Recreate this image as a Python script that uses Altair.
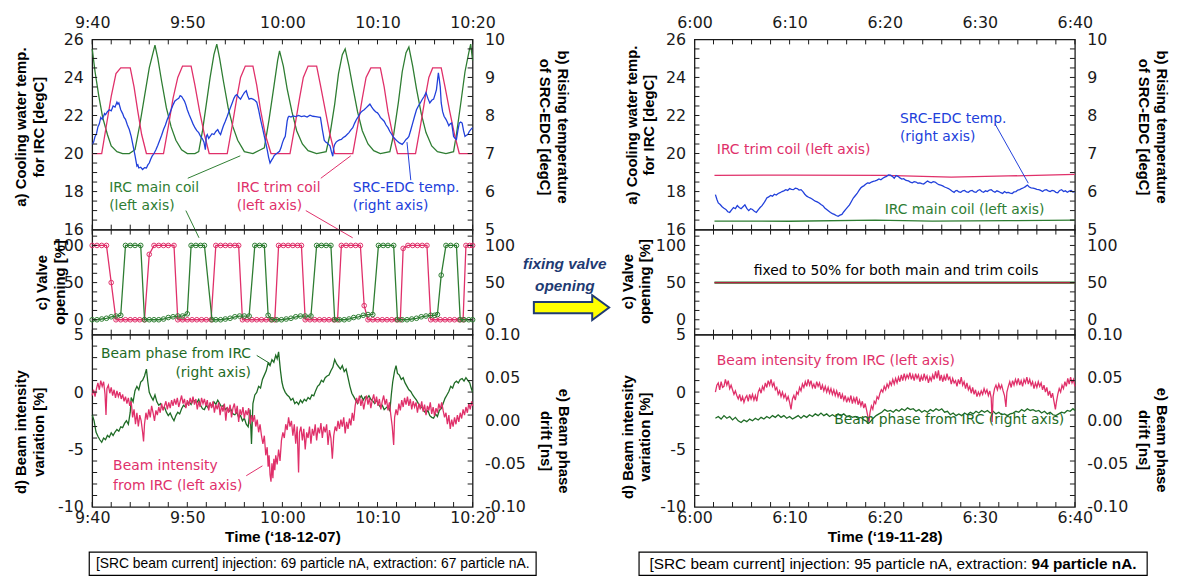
import altair as alt
import pandas as pd

W = 384
H_A, H_C, H_D = 192, 106, 174

PINK = "#E0306A"
GREEN = "#2E7D32"
DKGREEN = "#1E6B25"
BLUE = "#2140DB"
NAVY = "#1F3B73"
FRAME = "#1a1a1a"
ANN_FONT = "DejaVu Sans"
TTL_FONT = "Liberation Sans"

# ---------------- axis labels / ticks ----------------
TIME_POS = [0, 10, 20, 30, 40]
LEFT_TIMES = ["9:40", "9:50", "10:00", "10:10", "10:20"]
RIGHT_TIMES = ["6:00", "6:10", "6:20", "6:30", "6:40"]
X_TICKS = [0, 2, 4, 6, 8, 10, 12, 14, 16, 18, 20, 22, 24, 26, 28, 30, 32, 34, 36, 38, 40]
TEMP_LABELS = [16, 18, 20, 22, 24, 26]
EDC_LABELS = [5, 6, 7, 8, 9, 10]
VALVE_LABELS = [0, 50, 100]
INT_LABELS = [-10, -5, 0, 5]
PHASE_LABELS = [-0.1, -0.05, 0.0, 0.05, 0.1]
TEMP_TICKS = [16.5, 17, 17.5, 18, 18.5, 19, 19.5, 20, 20.5, 21, 21.5, 22, 22.5, 23, 23.5, 24, 24.5, 25, 25.5]
VALVE_TICKS = [-12.5, 0, 12.5, 25, 37.5, 50, 62.5, 75, 87.5, 100, 112.5]
INT_TICKS = [-9, -8, -7, -6, -5, -4, -3, -2, -1, 0, 1, 2, 3, 4]

DOM_TEMP = [16, 26]
DOM_EDC = [5, 10]
DOM_VALVE = [-20, 121.3]
DOM_INT = [-10, 5]
DOM_PHASE = [-0.1, 0.1]

# ---------------- left (2018-12-07) data: (minutes after 9:40, value) ----------------
MAIN_TEMP_L = [(0, 25.5), (0.3, 24.3), (0.7, 23.0), (1.1, 21.9), (1.6, 21.0), (2.0, 20.4), (2.6, 20.1), (3.2, 20.0),
               (3.9, 20.0), (4.5, 20.2), (5.0, 21.5), (5.5, 23.0), (6.0, 24.5), (6.6, 25.7), (6.9, 25.0), (7.3, 23.8),
               (7.8, 22.4), (8.3, 21.4), (8.8, 20.7), (9.4, 20.2), (10.0, 20.0), (10.8, 20.0), (11.2, 20.1), (11.6, 21.2),
               (12.0, 22.6), (12.4, 24.0), (12.8, 25.2), (13.1, 25.75), (13.4, 25.0), (13.8, 23.8), (14.3, 22.4),
               (14.8, 21.4), (15.3, 20.7), (16.0, 20.1), (16.9, 20.0), (17.7, 20.2), (18.1, 20.3), (18.6, 21.8),
               (19.1, 23.5), (19.5, 24.9), (19.7, 25.4), (20.1, 24.6), (20.5, 23.4), (21.0, 22.2), (21.5, 21.2),
               (22.1, 20.5), (22.7, 20.15), (23.6, 20.0), (24.6, 20.1), (25.0, 21.0), (25.5, 22.6), (25.9, 24.2),
               (26.3, 25.2), (26.6, 25.5), (27.0, 24.6), (27.4, 23.5), (27.9, 22.2), (28.4, 21.2), (29.0, 20.5),
               (29.6, 20.15), (30.3, 20.0), (31.3, 20.1), (31.7, 21.0), (32.2, 22.7), (32.6, 24.3), (33.0, 25.3),
               (33.3, 25.6), (33.7, 24.6), (34.1, 23.4), (34.6, 22.1), (35.1, 21.1), (35.7, 20.4), (36.3, 20.1),
               (37.2, 20.0), (38.0, 20.1), (38.3, 21.0), (38.8, 22.8), (39.2, 24.3), (39.6, 25.3), (39.8, 25.75),
               (40.0, 24.9)]

TRIM_TEMP_L = [(0, 20.0), (1.0, 20.0), (1.5, 21.5), (2.0, 23.0), (2.5, 24.2), (3.0, 24.5), (4.0, 24.5), (4.4, 23.5),
               (4.8, 22.2), (5.2, 21.0), (5.7, 20.0), (7.5, 20.0), (8.0, 21.4), (8.5, 22.9), (9.0, 24.0), (9.5, 24.6),
               (10.4, 24.6), (10.8, 23.6), (11.3, 22.2), (11.8, 21.0), (12.3, 20.0), (14.2, 20.0), (14.7, 21.4),
               (15.2, 22.9), (15.6, 24.0), (16.1, 24.6), (16.9, 24.6), (17.3, 23.6), (17.7, 22.3), (18.2, 21.0),
               (18.8, 20.0), (20.8, 20.0), (21.3, 21.4), (21.8, 22.9), (22.2, 24.0), (22.7, 24.6), (23.6, 24.6),
               (24.0, 23.6), (24.5, 22.3), (25.0, 21.0), (25.5, 20.0), (27.4, 20.0), (27.9, 21.4), (28.4, 22.9),
               (28.8, 24.0), (29.3, 24.5), (30.3, 24.5), (30.7, 23.5), (31.1, 22.2), (31.6, 21.0), (32.1, 20.0),
               (34.0, 20.0), (34.5, 21.4), (35.0, 22.9), (35.4, 24.0), (35.8, 24.5), (36.7, 24.5), (37.1, 23.5),
               (37.6, 22.2), (38.1, 21.0), (38.6, 20.0), (40.0, 20.0)]

EDC_L = [(0.0, 7.24), (0.15, 7.30), (0.3, 7.45), (0.45, 7.52), (0.6, 7.70), (0.75, 7.78), (0.9, 7.95), (1.05, 7.90),
         (1.2, 7.98), (1.3, 8.05), (1.4, 8.02), (1.6, 8.10), (1.8, 8.15), (2.0, 8.12), (2.2, 8.25), (2.4, 8.22),
         (2.6, 8.35), (2.7, 8.30), (2.8, 8.33), (3.0, 8.15), (3.2, 8.05), (3.35, 7.95), (3.5, 7.90), (3.7, 7.75),
         (3.9, 7.63), (4.1, 7.45), (4.3, 7.20), (4.5, 6.95), (4.7, 6.67), (4.8, 6.70), (4.9, 6.62), (5.1, 6.64),
         (5.3, 6.58), (5.5, 6.63), (5.7, 6.62), (5.85, 6.70), (6.0, 6.75), (6.15, 6.85), (6.3, 6.93), (6.5, 7.00),
         (6.7, 7.10), (6.9, 7.22), (7.1, 7.35), (7.3, 7.48), (7.5, 7.63), (7.7, 7.75), (7.9, 7.90), (8.1, 8.02),
         (8.3, 8.15), (8.5, 8.28), (8.7, 8.38), (8.9, 8.42), (9.1, 8.45), (9.25, 8.52), (9.4, 8.50), (9.55, 8.44),
         (9.7, 8.38), (9.85, 8.28), (10.0, 8.15), (10.2, 8.02), (10.4, 7.90), (10.6, 7.78), (10.8, 7.68),
         (11.0, 7.60), (11.2, 7.55), (11.4, 7.45), (11.6, 7.38), (11.75, 7.30), (11.9, 7.10), (12.0, 7.45),
         (12.1, 7.50), (12.25, 7.40), (12.4, 7.45), (12.6, 7.52), (12.8, 7.50), (13.0, 7.58), (13.2, 7.63),
         (13.35, 7.55), (13.5, 7.50), (13.65, 7.62), (13.8, 7.73), (14.0, 7.85), (14.2, 7.98), (14.4, 8.12),
         (14.6, 8.25), (14.75, 8.35), (14.9, 8.45), (15.05, 8.52), (15.2, 8.55), (15.4, 8.48), (15.6, 8.43),
         (15.8, 8.52), (16.0, 8.60), (16.2, 8.65), (16.35, 8.52), (16.5, 8.43), (16.7, 8.45), (16.9, 8.43),
         (17.1, 8.40), (17.3, 8.35), (17.5, 8.15), (17.7, 7.90), (17.9, 7.68), (18.1, 7.45), (18.25, 7.28),
         (18.4, 7.10), (18.55, 6.90), (18.7, 6.75), (18.85, 6.82), (19.0, 6.88), (19.15, 6.95), (19.3, 6.98),
         (19.5, 7.02), (19.7, 7.06), (19.85, 7.15), (20.0, 7.28), (20.15, 7.38), (20.3, 7.45), (20.4, 7.65),
         (20.5, 7.85), (20.6, 7.95), (20.7, 7.98), (20.9, 7.96), (21.1, 7.99), (21.4, 7.97), (21.7, 8.00),
         (22.0, 7.97), (22.3, 7.99), (22.6, 7.96), (22.9, 8.01), (23.2, 7.98), (23.5, 7.97), (23.8, 7.96),
         (24.0, 7.95), (24.2, 7.63), (24.4, 7.35), (24.55, 7.30), (24.7, 7.28), (24.85, 7.24), (25.0, 7.20),
         (25.15, 7.05), (25.3, 6.93), (25.4, 7.15), (25.5, 7.24), (25.65, 7.30), (25.8, 7.33), (26.0, 7.36),
         (26.2, 7.37), (26.4, 7.42), (26.6, 7.45), (26.8, 7.50), (27.0, 7.55), (27.2, 7.62), (27.4, 7.68),
         (27.6, 7.80), (27.8, 7.90), (28.0, 7.98), (28.2, 8.07), (28.4, 8.12), (28.6, 8.15), (28.8, 8.20),
         (29.0, 8.25), (29.2, 8.30), (29.4, 8.22), (29.6, 8.15), (29.8, 8.10), (30.0, 8.07), (30.2, 8.00),
         (30.3, 7.95), (30.5, 7.90), (30.7, 7.85), (30.9, 7.75), (31.1, 7.68), (31.3, 7.58), (31.5, 7.50),
         (31.7, 7.42), (31.9, 7.37), (32.1, 7.32), (32.3, 7.28), (32.45, 7.26), (32.6, 7.24), (32.8, 7.30),
         (33.0, 7.37), (33.15, 7.40), (33.3, 7.45), (33.5, 7.62), (33.7, 7.80), (33.9, 7.98), (34.1, 8.15),
         (34.3, 8.25), (34.5, 8.33), (34.7, 8.42), (34.9, 8.50), (35.1, 8.60), (35.3, 8.45), (35.5, 8.33),
         (35.7, 8.40), (35.9, 8.43), (36.05, 8.55), (36.2, 8.68), (36.3, 8.90), (36.4, 9.12), (36.5, 8.95),
         (36.6, 8.75), (36.7, 8.33), (36.85, 8.10), (37.0, 7.98), (37.2, 7.90), (37.35, 7.82), (37.5, 7.73),
         (37.65, 7.78), (37.8, 7.80), (38.0, 7.45), (38.15, 7.40), (38.3, 7.37), (38.45, 7.60), (38.6, 7.80),
         (38.75, 7.83), (38.9, 7.80), (39.05, 7.60), (39.2, 7.45), (39.35, 7.48), (39.5, 7.50), (39.65, 7.58),
         (39.8, 7.63), (40.0, 7.68)]

VALVE_TRIM_L = [(0.0, 100), (0.5, 100), (1.0, 100), (1.5, 100), (2.0, 50), (2.5, 0), (3.0, 0), (3.5, 0), (4.0, 0),
                (4.5, 0), (5.0, 0), (5.5, 0), (6.0, 88), (6.5, 100), (7.0, 100), (7.5, 100), (8.0, 100), (8.6, 100),
                (9.0, 0), (9.5, 0), (10.0, 0), (10.5, 0), (11.0, 0), (11.5, 0), (12.0, 0), (12.5, 0), (13.0, 100),
                (13.5, 100), (14.0, 100), (14.5, 100), (15.0, 100), (15.4, 100), (15.8, 0), (16.3, 0), (16.8, 0),
                (17.3, 0), (17.8, 0), (18.3, 0), (18.8, 0), (19.2, 0), (19.6, 100), (20.1, 100), (20.6, 100),
                (21.1, 100), (21.6, 100), (22.0, 100), (22.4, 0), (22.9, 0), (23.4, 0), (23.9, 0), (24.4, 0),
                (24.9, 0), (25.4, 0), (25.8, 0), (26.2, 100), (26.7, 100), (27.2, 100), (27.7, 100), (28.2, 100),
                (28.6, 19), (29.0, 0), (29.5, 0), (30.0, 0), (30.5, 0), (31.0, 0), (31.5, 0), (32.0, 0), (32.4, 0),
                (32.7, 96), (33.2, 100), (33.7, 100), (34.2, 100), (34.7, 100), (35.2, 100), (35.6, 0), (36.1, 0),
                (36.6, 0), (37.1, 0), (37.6, 0), (38.1, 0), (38.6, 0), (39.0, 0), (39.3, 100), (39.7, 100),
                (40.0, 100)]

VALVE_MAIN_L = [(0.0, 0), (0.5, 0), (1.0, 1), (1.5, 2), (2.0, 4), (2.5, 5), (3.0, 6), (3.5, 100), (4.0, 100),
                (4.5, 100), (5.1, 100), (5.5, 0), (6.0, 0), (6.5, 0), (7.0, 0), (7.5, 1), (8.0, 3), (8.5, 4),
                (9.0, 5), (9.5, 5), (10.0, 8), (10.4, 100), (10.9, 100), (11.4, 100), (11.8, 100), (12.6, 0),
                (13.0, 0), (13.5, 0), (14.0, 1), (14.5, 2), (15.0, 4), (15.5, 5), (16.0, 5), (16.5, 5), (17.1, 100),
                (17.6, 100), (18.1, 100), (18.5, 6), (18.9, 0), (19.4, 0), (19.9, 0), (20.4, 1), (20.9, 2),
                (21.4, 4), (21.9, 5), (22.4, 5), (23.0, 5), (23.6, 100), (24.1, 100), (24.6, 100), (25.1, 100),
                (25.5, 0), (26.0, 0), (26.5, 0), (27.0, 1), (27.5, 3), (28.0, 4), (28.5, 6), (29.0, 7), (29.5, 7),
                (30.1, 100), (30.6, 100), (31.1, 100), (31.7, 100), (32.1, 0), (32.6, 0), (33.1, 0), (33.6, 1),
                (34.1, 2), (34.6, 4), (35.1, 5), (35.6, 6), (36.0, 6), (36.3, 7), (36.7, 60), (37.2, 100),
                (37.7, 100), (38.3, 100), (38.7, 0), (39.1, 0), (39.6, 0), (40.0, 0)]

INTENSITY_L = [(0.0, -0.3), (0.15, 0.2), (0.3, -0.4), (0.45, 0.3), (0.6, 0.8), (0.75, 0.2), (0.9, 1.0), (1.05, 0.5),
               (1.2, 0.9), (1.35, -0.2), (1.45, -2.0), (1.55, 0.3), (1.7, 0.6), (1.85, -0.1), (2.0, 0.4),
               (2.15, -0.3), (2.3, 0.2), (2.45, -0.5), (2.6, 0.1), (2.75, -0.4), (2.9, 0.0), (3.05, -0.6),
               (3.2, -0.2), (3.35, -0.8), (3.5, -0.4), (3.65, -1.0), (3.8, -0.5), (3.95, -1.2), (4.1, -0.8),
               (4.25, -2.2), (4.4, -1.5), (4.55, -2.8), (4.7, -1.8), (4.85, -3.0), (5.0, -2.0), (5.15, -2.5),
               (5.3, -3.5), (5.4, -4.3), (5.5, -2.8), (5.65, -1.8), (5.8, -2.4), (5.95, -1.5), (6.1, -2.2),
               (6.25, -1.2), (6.4, -1.8), (6.55, -2.5), (6.7, -1.6), (6.85, -2.0), (7.0, -1.3), (7.15, -1.8),
               (7.3, -1.0), (7.45, -1.6), (7.6, -1.2), (7.75, -0.8), (7.9, -1.5), (8.05, -0.9), (8.2, -1.4),
               (8.35, -0.7), (8.5, -1.2), (8.65, -0.6), (8.8, -1.1), (8.95, -0.5), (9.1, -1.3), (9.25, -0.8),
               (9.4, -0.3), (9.55, -1.0), (9.7, -0.6), (9.85, -1.4), (10.0, -0.7), (10.15, -1.2), (10.3, -0.5),
               (10.45, -1.0), (10.6, -0.4), (10.75, -1.1), (10.9, -0.6), (11.05, -1.5), (11.2, -0.8),
               (11.35, -1.3), (11.5, -0.5), (11.65, -1.0), (11.8, -0.6), (11.95, -1.2), (12.1, -0.7),
               (12.25, -1.6), (12.4, -0.9), (12.55, -1.4), (12.7, -0.8), (12.85, -1.8), (13.0, -1.1),
               (13.15, -1.5), (13.3, -0.9), (13.45, -2.0), (13.6, -1.2), (13.75, -1.7), (13.9, -1.0),
               (14.05, -2.5), (14.2, -1.3), (14.35, -1.8), (14.5, -1.1), (14.65, -2.2), (14.8, -1.4),
               (14.95, -1.0), (15.1, -1.9), (15.25, -1.2), (15.4, -2.6), (15.55, -1.5), (15.7, -2.0),
               (15.85, -1.3), (16.0, -2.3), (16.15, -1.6), (16.3, -2.0), (16.45, -1.4), (16.6, -2.8),
               (16.75, -2.0), (16.9, -2.6), (17.05, -2.0), (17.2, -3.0), (17.35, -2.4), (17.5, -3.5),
               (17.65, -2.8), (17.8, -3.8), (17.95, -4.5), (18.1, -3.8), (18.25, -5.5), (18.4, -4.8),
               (18.5, -6.5), (18.6, -5.5), (18.7, -7.2), (18.8, -7.8), (18.9, -6.2), (19.0, -7.5), (19.1, -5.8),
               (19.2, -6.8), (19.3, -5.5), (19.45, -6.3), (19.6, -5.0), (19.75, -6.0), (19.9, -4.2),
               (20.05, -3.5), (20.2, -4.0), (20.35, -2.8), (20.5, -3.3), (20.65, -2.2), (20.8, -3.0),
               (20.95, -2.5), (21.1, -3.8), (21.25, -2.8), (21.4, -4.5), (21.55, -3.0), (21.7, -7.0),
               (21.8, -3.5), (21.95, -3.0), (22.1, -4.2), (22.25, -3.2), (22.4, -5.0), (22.55, -3.5),
               (22.7, -4.0), (22.85, -3.0), (23.0, -4.5), (23.15, -3.2), (23.3, -3.8), (23.45, -2.8),
               (23.6, -4.2), (23.75, -3.1), (23.9, -3.6), (24.05, -2.7), (24.2, -4.0), (24.35, -3.0),
               (24.5, -3.5), (24.65, -2.8), (24.8, -4.6), (24.95, -3.3), (25.1, -4.0), (25.25, -5.8),
               (25.4, -3.8), (25.55, -3.0), (25.7, -3.4), (25.85, -2.5), (26.0, -3.2), (26.15, -2.4),
               (26.3, -3.0), (26.45, -2.2), (26.6, -3.6), (26.75, -2.6), (26.9, -3.2), (27.05, -2.3),
               (27.2, -2.9), (27.35, -1.8), (27.5, -2.5), (27.65, -1.2), (27.8, -0.5), (27.95, -1.0),
               (28.1, -0.3), (28.25, -1.2), (28.4, -0.6), (28.55, -1.5), (28.7, -0.8), (28.85, -0.3),
               (29.0, -1.1), (29.15, -0.5), (29.3, -1.4), (29.45, -0.7), (29.6, -0.2), (29.75, -1.0),
               (29.9, -0.4), (30.05, -1.2), (30.2, -0.6), (30.35, -1.5), (30.5, -0.8), (30.65, -0.3),
               (30.8, -1.1), (30.95, -0.6), (31.1, -1.6), (31.25, -0.9), (31.4, -2.0), (31.55, -3.0),
               (31.7, -4.6), (31.8, -2.2), (31.95, -1.5), (32.1, -2.0), (32.25, -1.0), (32.4, -1.6),
               (32.55, -0.7), (32.7, -1.3), (32.85, -0.5), (33.0, -1.1), (33.15, -0.4), (33.3, -1.2),
               (33.45, -0.6), (33.6, -1.5), (33.75, -0.8), (33.9, -1.3), (34.05, -0.9), (34.2, -1.8),
               (34.35, -1.0), (34.5, -1.5), (34.65, -0.8), (34.8, -1.7), (34.95, -1.1), (35.1, -2.0),
               (35.25, -1.2), (35.4, -1.6), (35.55, -0.9), (35.7, -1.9), (35.85, -1.3), (36.0, -2.1),
               (36.15, -1.4), (36.3, -1.8), (36.45, -1.0), (36.6, -1.5), (36.75, -0.9), (36.9, -1.6),
               (37.05, -2.2), (37.2, -1.8), (37.35, -2.8), (37.5, -2.0), (37.65, -3.2), (37.8, -2.4),
               (37.95, -3.0), (38.1, -2.2), (38.25, -2.8), (38.4, -2.0), (38.55, -2.6), (38.7, -1.8),
               (38.85, -2.3), (39.0, -1.5), (39.15, -2.0), (39.3, -1.3), (39.45, -1.8), (39.6, -1.0),
               (39.75, -1.5), (39.9, -0.8), (40.0, -1.2)]

PHASE_L = [(0.0, 0.007), (0.2, 0.000), (0.4, -0.013), (0.6, -0.018), (0.8, -0.022), (1.0, -0.025), (1.2, -0.020),
           (1.4, -0.022), (1.6, -0.017), (1.8, -0.019), (2.0, -0.014), (2.2, -0.017), (2.4, -0.013), (2.6, -0.010),
           (2.8, -0.012), (3.0, -0.007), (3.2, -0.008), (3.4, -0.003), (3.6, 0.000), (3.8, -0.004), (4.0, 0.010),
           (4.1, 0.027), (4.3, 0.022), (4.5, 0.035), (4.7, 0.040), (4.9, 0.036), (5.1, 0.045), (5.3, 0.047),
           (5.5, 0.052), (5.7, 0.060), (5.85, 0.045), (6.0, 0.033), (6.2, 0.028), (6.4, 0.024), (6.6, 0.030),
           (6.8, 0.022), (7.0, 0.018), (7.2, 0.020), (7.4, 0.014), (7.6, 0.016), (7.8, 0.010), (8.0, 0.006),
           (8.2, 0.009), (8.4, 0.004), (8.6, 0.000), (8.8, 0.006), (9.0, 0.010), (9.2, 0.008), (9.4, 0.014),
           (9.6, 0.018), (9.8, 0.016), (10.0, 0.020), (10.2, 0.022), (10.4, 0.019), (10.6, 0.024), (10.8, 0.023),
           (11.0, 0.021), (11.2, 0.025), (11.4, 0.018), (11.6, 0.014), (11.8, 0.013), (12.0, 0.018), (12.2, 0.015),
           (12.4, 0.020), (12.6, 0.017), (12.8, 0.022), (13.0, 0.019), (13.2, 0.024), (13.4, 0.020), (13.6, 0.016),
           (13.8, 0.018), (14.0, 0.013), (14.2, 0.015), (14.4, 0.011), (14.6, 0.013), (14.8, 0.008), (15.0, 0.007),
           (15.2, 0.010), (15.4, 0.004), (15.6, 0.006), (15.8, 0.000), (16.0, 0.003), (16.2, -0.004),
           (16.4, -0.007), (16.6, 0.013), (16.75, -0.027), (16.9, 0.020), (17.1, 0.030), (17.3, 0.033),
           (17.5, 0.040), (17.7, 0.038), (17.9, 0.048), (18.1, 0.053), (18.3, 0.058), (18.5, 0.067), (18.7, 0.064),
           (18.9, 0.071), (19.1, 0.068), (19.3, 0.076), (19.45, 0.072), (19.6, 0.080), (19.8, 0.058),
           (19.95, 0.045), (20.1, 0.038), (20.3, 0.033), (20.5, 0.030), (20.7, 0.028), (20.9, 0.024), (21.1, 0.026),
           (21.3, 0.020), (21.5, 0.022), (21.7, 0.019), (21.9, 0.024), (22.1, 0.021), (22.3, 0.025), (22.5, 0.023),
           (22.7, 0.027), (22.9, 0.025), (23.1, 0.030), (23.3, 0.029), (23.5, 0.035), (23.7, 0.040), (23.9, 0.042),
           (24.1, 0.047), (24.3, 0.045), (24.5, 0.050), (24.7, 0.052), (24.9, 0.053), (25.1, 0.058), (25.3, 0.062),
           (25.5, 0.071), (25.7, 0.066), (25.9, 0.063), (26.1, 0.060), (26.3, 0.064), (26.5, 0.057), (26.7, 0.060),
           (26.9, 0.050), (27.1, 0.040), (27.3, 0.032), (27.5, 0.028), (27.7, 0.024), (27.9, 0.020), (28.1, 0.026),
           (28.3, 0.029), (28.5, 0.024), (28.7, 0.028), (28.9, 0.026), (29.1, 0.029), (29.3, 0.025), (29.5, 0.023),
           (29.7, 0.020), (29.9, 0.024), (30.1, 0.019), (30.3, 0.016), (30.5, 0.018), (30.7, 0.013), (30.9, 0.015),
           (31.1, 0.017), (31.3, 0.011), (31.45, 0.030), (31.6, 0.045), (31.8, 0.058), (31.95, 0.064),
           (32.1, 0.055), (32.3, 0.053), (32.5, 0.048), (32.7, 0.050), (32.9, 0.044), (33.1, 0.040), (33.3, 0.036),
           (33.5, 0.034), (33.7, 0.030), (33.9, 0.027), (34.1, 0.024), (34.3, 0.020), (34.5, 0.017), (34.7, 0.015),
           (34.9, 0.011), (35.1, 0.009), (35.3, 0.012), (35.5, 0.006), (35.7, 0.004), (35.9, 0.003), (36.1, 0.008),
           (36.3, 0.005), (36.5, 0.012), (36.7, 0.014), (36.9, 0.020), (37.1, 0.026), (37.3, 0.030), (37.5, 0.034),
           (37.7, 0.040), (37.9, 0.038), (38.1, 0.044), (38.3, 0.046), (38.5, 0.044), (38.7, 0.048), (38.9, 0.049),
           (39.1, 0.046), (39.3, 0.050), (39.5, 0.047), (39.7, 0.044), (39.85, 0.038), (40.0, 0.033)]

# ---------------- right (2019-11-28) data: (minutes after 6:00, value) ----------------
TRIM_TEMP_R = [(2.1, 18.85), (10, 18.87), (20, 18.85), (27, 18.76), (33, 18.82), (40, 18.9)]
MAIN_TEMP_R = [(2.1, 16.45), (10, 16.44), (19, 16.5), (25, 16.45), (33, 16.47), (40, 16.5)]
VALVE_R = [(2.1, 50), (40, 50)]

EDC_R = [(2.2, 5.92), (2.35, 5.80), (2.5, 5.70), (2.7, 5.66), (2.9, 5.60), (3.1, 5.56), (3.3, 5.53), (3.5, 5.47),
         (3.7, 5.45), (3.9, 5.52), (4.1, 5.58), (4.3, 5.55), (4.5, 5.63), (4.7, 5.58), (4.9, 5.55), (5.1, 5.60),
         (5.3, 5.65), (5.5, 5.56), (5.7, 5.50), (5.9, 5.55), (6.1, 5.53), (6.3, 5.48), (6.5, 5.45), (6.7, 5.52),
         (6.9, 5.58), (7.1, 5.63), (7.3, 5.70), (7.45, 5.76), (7.6, 5.83), (7.8, 5.86), (8.0, 5.90), (8.2, 5.88),
         (8.4, 5.93), (8.6, 5.91), (8.8, 5.95), (9.0, 5.97), (9.2, 6.00), (9.4, 6.02), (9.6, 6.05), (9.8, 6.03),
         (10.0, 6.08), (10.2, 6.06), (10.4, 6.05), (10.6, 6.09), (10.8, 6.08), (11.0, 6.04), (11.2, 6.05),
         (11.4, 6.00), (11.6, 5.93), (11.8, 5.88), (12.0, 5.85), (12.2, 5.83), (12.4, 5.80), (12.55, 5.77),
         (12.7, 5.75), (12.9, 5.73), (13.1, 5.70), (13.3, 5.66), (13.5, 5.63), (13.7, 5.57), (13.9, 5.53),
         (14.1, 5.49), (14.3, 5.45), (14.5, 5.42), (14.7, 5.40), (14.9, 5.37), (15.1, 5.35), (15.3, 5.38),
         (15.5, 5.40), (15.7, 5.47), (15.9, 5.53), (16.1, 5.59), (16.3, 5.65), (16.5, 5.74), (16.7, 5.83),
         (16.9, 5.89), (17.1, 5.95), (17.3, 6.03), (17.5, 6.10), (17.65, 6.13), (17.8, 6.15), (18.0, 6.19),
         (18.2, 6.23), (18.4, 6.22), (18.6, 6.25), (18.8, 6.27), (19.0, 6.28), (19.2, 6.30), (19.4, 6.33),
         (19.6, 6.31), (19.8, 6.35), (20.0, 6.38), (20.2, 6.40), (20.4, 6.44), (20.6, 6.43), (20.8, 6.40),
         (21.0, 6.35), (21.2, 6.42), (21.4, 6.40), (21.6, 6.36), (21.8, 6.33), (22.0, 6.34), (22.2, 6.30),
         (22.35, 6.29), (22.5, 6.28), (22.7, 6.25), (22.9, 6.23), (23.1, 6.26), (23.3, 6.25), (23.5, 6.22),
         (23.7, 6.23), (23.9, 6.21), (24.1, 6.20), (24.3, 6.24), (24.5, 6.28), (24.7, 6.25), (24.9, 6.23),
         (25.1, 6.26), (25.3, 6.25), (25.5, 6.21), (25.7, 6.18), (25.9, 6.17), (26.1, 6.15), (26.3, 6.12),
         (26.5, 6.10), (26.7, 6.08), (26.9, 6.05), (27.1, 6.01), (27.3, 5.98), (27.45, 6.02), (27.6, 6.03),
         (27.8, 5.99), (28.0, 5.98), (28.2, 6.02), (28.4, 6.03), (28.6, 5.99), (28.8, 5.98), (29.0, 6.02),
         (29.2, 6.03), (29.4, 5.99), (29.6, 5.98), (29.8, 6.03), (30.0, 6.05), (30.2, 6.00), (30.4, 5.98),
         (30.6, 6.02), (30.8, 6.00), (31.0, 6.04), (31.2, 6.05), (31.4, 6.01), (31.6, 5.98), (31.8, 6.02),
         (32.0, 6.00), (32.2, 5.97), (32.4, 5.95), (32.6, 6.00), (32.8, 5.97), (33.0, 5.98), (33.2, 5.96),
         (33.4, 5.95), (33.6, 5.99), (33.8, 6.00), (34.0, 6.04), (34.2, 6.05), (34.4, 6.08), (34.6, 6.10),
         (34.8, 6.13), (35.0, 6.17), (35.2, 6.12), (35.4, 6.10), (35.6, 6.09), (35.8, 6.08), (36.0, 6.06),
         (36.2, 6.05), (36.4, 6.03), (36.6, 6.00), (36.8, 6.04), (37.0, 6.05), (37.2, 6.02), (37.4, 6.00),
         (37.6, 6.03), (37.8, 6.02), (38.0, 5.98), (38.2, 5.97), (38.4, 6.03), (38.6, 6.05), (38.8, 6.00),
         (39.0, 6.02), (39.2, 5.98), (39.4, 6.01), (39.6, 6.03), (39.8, 5.99), (40.0, 6.00)]

INTENSITY_R = [(2.2, 0.0), (2.35, 0.6), (2.5, 0.8), (2.65, 0.2), (2.8, 0.9), (2.95, 0.4), (3.1, 0.5), (3.25, 1.1),
               (3.4, 0.6), (3.55, 1.0), (3.7, 0.3), (3.85, 0.6), (4.0, 0.2), (4.15, -0.2), (4.3, 0.1), (4.45, -0.3),
               (4.6, -0.6), (4.75, -0.2), (4.9, -0.8), (5.05, -0.4), (5.2, -0.9), (5.35, -0.5), (5.5, -0.3),
               (5.65, -0.8), (5.8, -0.2), (5.95, -0.6), (6.1, -0.2), (6.25, -0.7), (6.4, -0.3), (6.55, -0.8),
               (6.7, 0.0), (6.85, 0.3), (7.0, -0.1), (7.15, 0.5), (7.3, 0.2), (7.45, 0.8), (7.6, 0.4), (7.75, 1.0),
               (7.9, 0.6), (8.05, 1.1), (8.2, 0.5), (8.35, 0.8), (8.5, 0.2), (8.65, 0.4), (8.8, -0.2), (8.95, 0.1),
               (9.1, -0.4), (9.25, 0.0), (9.4, -0.5), (9.55, -0.2), (9.7, -0.7), (9.85, -0.4), (10.0, -0.9),
               (10.15, -1.5), (10.3, -0.6), (10.45, -0.3), (10.6, -0.7), (10.75, 0.0), (10.9, -0.2), (11.05, 0.4),
               (11.2, 0.1), (11.35, 0.7), (11.5, 0.4), (11.65, 0.9), (11.8, 0.5), (11.95, 1.1), (12.1, 0.6),
               (12.25, 1.0), (12.4, 0.4), (12.55, 0.7), (12.7, 0.3), (12.85, 0.9), (13.0, 0.5), (13.15, 0.8),
               (13.3, 0.2), (13.45, 0.6), (13.6, 0.1), (13.75, 0.5), (13.9, 0.0), (14.05, 0.4), (14.2, -0.1),
               (14.35, 0.3), (14.5, -0.2), (14.65, 0.2), (14.8, -0.3), (14.95, 0.1), (15.1, -0.4), (15.25, 0.0),
               (15.4, -0.6), (15.55, -0.2), (15.7, -0.7), (15.85, -0.3), (16.0, -0.9), (16.15, -0.5),
               (16.3, -0.8), (16.45, -0.3), (16.6, -1.0), (16.75, -0.5), (16.9, -0.9), (17.05, -0.4),
               (17.2, -1.1), (17.35, -0.7), (17.5, -1.2), (17.65, -0.8), (17.8, -1.4), (17.95, -1.0),
               (18.1, -1.6), (18.25, -2.2), (18.35, -2.6), (18.45, -1.8), (18.6, -1.2), (18.75, -1.5),
               (18.9, -0.8), (19.05, -1.0), (19.2, -0.4), (19.35, -0.6), (19.5, -0.1), (19.65, 0.2), (19.8, 0.0),
               (19.95, 0.5), (20.1, 0.2), (20.25, 0.7), (20.4, 0.4), (20.55, 0.9), (20.7, 0.6), (20.85, 1.1),
               (21.0, 0.7), (21.15, 1.2), (21.3, 0.8), (21.45, 1.3), (21.6, 0.9), (21.75, 1.5), (21.9, 1.0),
               (22.05, 1.6), (22.2, 1.1), (22.35, 1.5), (22.5, 1.2), (22.65, 1.7), (22.8, 1.1), (22.95, 1.5),
               (23.1, 1.0), (23.25, 1.6), (23.4, 1.2), (23.55, 1.5), (23.7, 0.9), (23.85, 1.4), (24.0, 1.0),
               (24.15, 1.6), (24.3, 1.1), (24.45, 1.4), (24.6, 0.8), (24.75, 1.3), (24.9, 1.0), (25.05, 1.5),
               (25.2, 1.1), (25.35, 1.8), (25.5, 1.2), (25.65, 1.9), (25.8, 1.0), (25.95, 1.5), (26.1, 0.9),
               (26.25, 1.4), (26.4, 1.0), (26.55, 1.6), (26.7, 1.1), (26.85, 1.3), (27.0, 0.7), (27.15, 1.2),
               (27.3, 0.8), (27.45, 1.0), (27.6, 0.5), (27.75, 1.1), (27.9, 0.7), (28.05, 1.3), (28.2, 0.6),
               (28.35, 0.9), (28.5, 0.3), (28.65, 0.8), (28.8, 0.2), (28.95, 0.5), (29.1, -0.1), (29.25, 0.4),
               (29.4, -0.2), (29.55, 0.2), (29.7, -0.4), (29.85, 0.0), (30.0, -0.3), (30.15, 0.1), (30.3, -0.2),
               (30.45, 0.3), (30.6, -0.1), (30.75, 0.2), (30.9, -0.3), (31.05, 0.1), (31.2, -0.5), (31.3, -2.6),
               (31.4, -0.4), (31.55, 0.3), (31.7, 0.6), (31.85, 0.2), (32.0, 0.7), (32.15, 0.3), (32.3, 0.6),
               (32.45, 0.1), (32.6, -0.3), (32.75, -1.3), (32.85, 0.0), (33.0, 0.5), (33.15, 0.9), (33.3, 0.4),
               (33.45, 1.0), (33.6, 0.6), (33.75, 1.1), (33.9, 0.7), (34.05, 1.2), (34.2, 0.6), (34.35, 1.0),
               (34.5, 0.5), (34.65, 1.1), (34.8, 0.8), (34.95, 1.3), (35.1, 0.7), (35.25, 1.1), (35.4, 0.6),
               (35.55, 0.9), (35.7, 0.3), (35.85, 0.8), (36.0, 0.4), (36.15, 0.9), (36.3, 0.5), (36.45, 0.8),
               (36.6, 0.2), (36.75, 0.6), (36.9, 0.0), (37.05, 0.4), (37.2, -0.3), (37.35, 0.1), (37.5, -0.5),
               (37.65, -0.1), (37.8, -0.8), (37.95, -1.5), (38.05, -0.9), (38.2, -0.2), (38.35, 0.3), (38.5, 0.0),
               (38.65, 0.6), (38.8, 0.3), (38.95, 0.9), (39.1, 0.5), (39.25, 1.2), (39.4, 0.7), (39.55, 1.3),
               (39.7, 0.8), (39.85, 1.1), (40.0, 0.5)]

PHASE_R = [(2.2, 0.003), (2.5, 0.005), (2.8, 0.002), (3.1, 0.006), (3.4, 0.003), (3.7, 0.005), (4.0, 0.001),
           (4.3, 0.004), (4.6, 0.000), (4.9, -0.002), (5.2, 0.001), (5.5, -0.001), (5.8, 0.002), (6.1, 0.000),
           (6.4, 0.003), (6.7, 0.001), (7.0, 0.004), (7.3, 0.002), (7.6, 0.005), (7.9, 0.003), (8.2, 0.006),
           (8.5, 0.004), (8.8, 0.007), (9.1, 0.004), (9.4, 0.006), (9.7, 0.003), (10.0, 0.005), (10.3, 0.002),
           (10.6, 0.004), (10.9, 0.006), (11.2, 0.003), (11.5, 0.006), (11.8, 0.004), (12.1, 0.007), (12.4, 0.005),
           (12.7, 0.008), (13.0, 0.006), (13.3, 0.009), (13.6, 0.006), (13.9, 0.008), (14.2, 0.005), (14.5, 0.007),
           (14.8, 0.005), (15.1, 0.008), (15.4, 0.006), (15.7, 0.008), (16.0, 0.005), (16.3, 0.006), (16.6, 0.004),
           (16.9, 0.005), (17.2, 0.003), (17.5, 0.004), (17.8, 0.001), (18.0, 0.000), (18.3, -0.003),
           (18.5, -0.001), (18.8, 0.003), (19.1, 0.006), (19.4, 0.008), (19.7, 0.010), (20.0, 0.013),
           (20.3, 0.011), (20.6, 0.012), (20.9, 0.010), (21.2, 0.013), (21.5, 0.011), (21.8, 0.014), (22.1, 0.012),
           (22.4, 0.015), (22.7, 0.013), (23.0, 0.014), (23.3, 0.011), (23.6, 0.013), (23.9, 0.010), (24.2, 0.012),
           (24.5, 0.010), (24.8, 0.013), (25.1, 0.011), (25.4, 0.014), (25.7, 0.012), (26.0, 0.014), (26.3, 0.010),
           (26.6, 0.011), (26.9, 0.007), (27.2, 0.009), (27.5, 0.006), (27.8, 0.008), (28.1, 0.006), (28.4, 0.009),
           (28.7, 0.007), (29.0, 0.010), (29.3, 0.008), (29.6, 0.011), (29.9, 0.009), (30.2, 0.012), (30.5, 0.010),
           (30.8, 0.012), (31.1, 0.009), (31.4, 0.011), (31.7, 0.008), (32.0, 0.010), (32.3, 0.007), (32.6, 0.008),
           (32.9, 0.006), (33.2, 0.008), (33.5, 0.009), (33.8, 0.011), (34.1, 0.010), (34.4, 0.013), (34.7, 0.011),
           (35.0, 0.014), (35.3, 0.012), (35.6, 0.013), (35.9, 0.011), (36.2, 0.012), (36.5, 0.009), (36.8, 0.011),
           (37.1, 0.008), (37.4, 0.010), (37.7, 0.007), (38.0, 0.006), (38.3, 0.008), (38.6, 0.010), (38.9, 0.009),
           (39.2, 0.012), (39.5, 0.011), (39.8, 0.014), (40.0, 0.012)]

# ---------------- annotations (in data units of each panel) ----------------
NOTES_LA_MAIN = [(1.78, 18.18, "IRC main coil"), (1.78, 17.22, "(left axis)")]
NOTES_LA_TRIM = [(15.2, 18.18, "IRC trim coil"), (15.2, 17.22, "(left axis)")]
NOTES_LA_EDC = [(27.4, 18.18, "SRC-EDC temp."), (27.4, 17.22, "(right axis)")]
LEAD_LA_MAIN = [(10.05, 18.7, 15.57, 19.88), (9.85, 17.0, 11.23, 15.57)]
LEAD_LA_TRIM = [(24.04, 18.7, 27.19, 19.88), (22.46, 17.0, 27.39, 15.57)]
LEAD_LA_EDC = [(33.5, 18.6, 33.1, 20.6)]

ARROW_POS = [(50.4, 16.4)]
ARROW_TEXT = [(49.7, 74.7, "fixing valve"), (49.7, 45.7, "opening")]

NOTES_LD_PHASE = [(16.7, 3.34, "Beam phase from IRC"), (16.7, 1.62, "(right axis)")]
NOTES_LD_INT = [(2.2, -6.42, "Beam intensity"), (2.2, -8.14, "from IRC (left axis)")]
LEAD_LD_PHASE = [(17.3, 3.19, 18.7, 2.48)]
LEAD_LD_INT = [(16.2, -7.28, 17.9, -6.42)]
BOX_L = [(-0.31, -13.93, 46.68, -15.96)]
BOX_TEXT_L = [(23.19, -14.97, "[SRC beam current] injection: 69 particle nA, extraction: 67 particle nA.")]

NOTES_RA_TRIM = [(2.35, 20.18, "IRC trim coil (left axis)")]
NOTES_RA_MAIN = [(20.0, 17.05, "IRC main coil (left axis)")]
NOTES_RA_EDC = [(21.6, 21.82, "SRC-EDC temp."), (21.6, 20.87, "(right axis)")]
LEAD_RA_EDC = [(31.6, 21.56, 35.1, 18.44)]
NOTES_RC = [(21.2, 65.7, "fixed to 50% for both main and trim coils")]
NOTES_RD_INT = [(2.35, 2.7, "Beam intensity from IRC (left axis)")]
NOTES_RD_PHASE = [(14.7, -2.4, "Beam phase from IRC (right axis)")]
BOX_R = [(-5.83, -13.93, 47.6, -15.96)]
BOX_TEXT_R = [(35.0, -14.97, "[SRC beam current] injection: 95 particle nA, extraction:")]
BOX_BOLD_R = [(35.45, -14.97, "94 particle nA.")]

ARROW_PATH = "M -1 -0.15 L 0.55 -0.15 L 0.55 -0.33 L 1 0 L 0.55 0.33 L 0.55 0.15 L -1 0.15 Z"


# ---------------- helpers ----------------
def X(labels=None, orient="top", title=None):
    if labels is None:
        axis = None
    else:
        expr = "[" + ",".join("'%s'" % s for s in labels) + "][round(datum.value / 10)]"
        axis = alt.Axis(orient=orient, values=TIME_POS, labelExpr=expr, ticks=False, tickSize=0,
                        domain=False, grid=False, labelFlush=False, labelOverlap=False,
                        labelPadding=9 if orient == "top" else 3, title=title, titlePadding=4,
                        titleFontSize=15.5)
    return alt.X("t:Q", scale=alt.Scale(domain=[0, 40], nice=False, zero=False), axis=axis)


def yaxis(orient, values, fmt, title=None, tx=0, ty=0, pad=9):
    expr = "datum.value < 0 ? '-' + format(-datum.value, '%s') : format(datum.value, '%s')" % (fmt, fmt)
    kw = dict(orient=orient, values=values, labelExpr=expr, ticks=False, tickSize=0, domain=False,
              grid=False, labelFlush=False, labelOverlap=False, labelPadding=pad)
    if title is not None:
        kw.update(title=title, titleX=tx, titleY=ty, titleAngle=(270 if orient == "left" else 90),
                  titleBaseline="bottom", titleAlign="center", titleLineHeight=18)
    else:
        kw.update(title=None)
    return alt.Axis(**kw)


def Y(dom, axis=None):
    return alt.Y("v:Q", scale=alt.Scale(domain=dom, nice=False, zero=False), axis=axis)


def line(pairs, color, dom, xe, axis=None, sw=1.3, pts=False):
    df = pd.DataFrame(pairs, columns=["t", "v"])
    if pts:
        m = alt.Chart(df).mark_line(color=color, strokeWidth=sw,
                                    point=alt.OverlayMarkDef(filled=False, size=22, strokeWidth=1,
                                                             color=color, opacity=1))
    else:
        m = alt.Chart(df).mark_line(color=color, strokeWidth=sw)
    return m.encode(x=xe, y=Y(dom, axis))


def ticks(xe, dom, yvals, H):
    xdf = pd.DataFrame({"t": X_TICKS})
    ydf = pd.DataFrame({"v": yvals})
    bx = alt.Chart(xdf).mark_rule(color=FRAME, strokeWidth=1)
    by = alt.Chart(ydf).mark_rule(color=FRAME, strokeWidth=1)
    return [
        bx.encode(x=xe, y=alt.value(0), y2=alt.value(5)),
        bx.encode(x=xe, y=alt.value(H - 5), y2=alt.value(H)),
        by.encode(y=Y(dom), x=alt.value(0), x2=alt.value(5)),
        by.encode(y=Y(dom), x=alt.value(W - 5), x2=alt.value(W)),
    ]


def notes(rows, color, dom, xe, align="left", size=14, font=ANN_FONT, weight="normal", style="normal"):
    df = pd.DataFrame(rows, columns=["t", "v", "label"])
    return alt.Chart(df).mark_text(align=align, baseline="middle", color=color, fontSize=size, font=font,
                                   fontWeight=weight, fontStyle=style).encode(x=xe, y=Y(dom), text="label:N")


def leaders(rows, color, dom, xe):
    df = pd.DataFrame(rows, columns=["t", "v", "t2", "v2"])
    return alt.Chart(df).mark_rule(color=color, strokeWidth=1).encode(
        x=xe, x2=alt.X2("t2:Q"), y=Y(dom), y2=alt.Y2("v2:Q"))


def box(rows, dom, xe):
    df = pd.DataFrame(rows, columns=["t", "v", "t2", "v2"])
    return alt.Chart(df).mark_rect(fill="white", fillOpacity=0, stroke="black", strokeWidth=1.2).encode(
        x=xe, x2=alt.X2("t2:Q"), y=Y(dom), y2=alt.Y2("v2:Q"))


def panel(layers, H):
    return alt.layer(*layers).resolve_scale(y="independent").properties(width=W, height=H)


# ---------------- left column ----------------
xa_L = X(LEFT_TIMES, "top")
xn = X()
xd_L = X(LEFT_TIMES, "bottom", "Time (\u201818-12-07)")

pa_L = panel([
    line(MAIN_TEMP_L, GREEN, DOM_TEMP, xa_L,
         yaxis("left", TEMP_LABELS, "d", ["a) Cooling water temp.", "for IRC [degC]"], -64, 88)),
    line(TRIM_TEMP_L, PINK, DOM_TEMP, xa_L),
    line(EDC_L, BLUE, DOM_EDC, xa_L,
         yaxis("right", EDC_LABELS, "d", ["b) Rising temperature", "of SRC-EDC [degC]"], 83, 88, pad=12)),
    *ticks(xa_L, DOM_TEMP, TEMP_TICKS, H_A),
    notes(NOTES_LA_MAIN, GREEN, DOM_TEMP, xa_L),
    notes(NOTES_LA_TRIM, PINK, DOM_TEMP, xa_L),
    notes(NOTES_LA_EDC, BLUE, DOM_TEMP, xa_L),
    leaders(LEAD_LA_MAIN, GREEN, DOM_TEMP, xa_L),
    leaders(LEAD_LA_TRIM, PINK, DOM_TEMP, xa_L),
    leaders(LEAD_LA_EDC, BLUE, DOM_TEMP, xa_L),
], H_A)

arrow = alt.Chart(pd.DataFrame(ARROW_POS, columns=["t", "v"])).mark_point(
    shape=ARROW_PATH, size=5776, filled=True, fill="#FFFF00", stroke=NAVY, strokeWidth=2, opacity=1
).encode(x=xn, y=Y(DOM_VALVE))

pc_L = panel([
    line(VALVE_TRIM_L, PINK, DOM_VALVE, xn,
         yaxis("left", VALVE_LABELS, "d", ["c) Valve", "opening [%]"], -43, 53), pts=True),
    line(VALVE_MAIN_L, GREEN, DOM_VALVE, xn, yaxis("right", VALVE_LABELS, "d", pad=12), pts=True),
    *ticks(xn, DOM_VALVE, VALVE_TICKS, H_C),
    arrow,
    notes(ARROW_TEXT, NAVY, DOM_VALVE, xn, align="center", size=15.5, font=TTL_FONT, weight="bold",
          style="italic"),
], H_C)

pd_L = panel([
    line(PHASE_L, DKGREEN, DOM_PHASE, xd_L,
         yaxis("right", PHASE_LABELS, ".2f", ["e) Beam phase", "drift [ns]"], 84, 107, pad=12)),
    line(INTENSITY_L, PINK, DOM_INT, xd_L,
         yaxis("left", INT_LABELS, "d", ["d) Beam intensity", "variation [%]"], -64, 98)),
    *ticks(xd_L, DOM_INT, INT_TICKS, H_D),
    notes(NOTES_LD_PHASE, DKGREEN, DOM_INT, xd_L, align="right"),
    notes(NOTES_LD_INT, PINK, DOM_INT, xd_L),
    leaders(LEAD_LD_PHASE, DKGREEN, DOM_INT, xd_L),
    leaders(LEAD_LD_INT, PINK, DOM_INT, xd_L),
    box(BOX_L, DOM_INT, xd_L),
    notes(BOX_TEXT_L, "black", DOM_INT, xd_L, align="center", size=14, font=TTL_FONT),
], H_D)

# ---------------- right column ----------------
xa_R = X(RIGHT_TIMES, "top")
xd_R = X(RIGHT_TIMES, "bottom", "Time (\u201819-11-28)")

pa_R = panel([
    line(MAIN_TEMP_R, GREEN, DOM_TEMP, xa_R,
         yaxis("left", TEMP_LABELS, "d", ["a) Cooling water temp.", "for IRC [degC]"], -56, 86)),
    line(TRIM_TEMP_R, PINK, DOM_TEMP, xa_R),
    line(EDC_R, BLUE, DOM_EDC, xa_R,
         yaxis("right", EDC_LABELS, "d", ["b) Rising temperature", "of SRC-EDC [degC]"], 79, 88, pad=12)),
    *ticks(xa_R, DOM_TEMP, TEMP_TICKS, H_A),
    notes(NOTES_RA_TRIM, PINK, DOM_TEMP, xa_R),
    notes(NOTES_RA_MAIN, GREEN, DOM_TEMP, xa_R),
    notes(NOTES_RA_EDC, BLUE, DOM_TEMP, xa_R),
    leaders(LEAD_RA_EDC, BLUE, DOM_TEMP, xa_R),
], H_A)

pc_R = panel([
    line(VALVE_R, GREEN, DOM_VALVE, xn,
         yaxis("left", VALVE_LABELS, "d", ["c) Valve", "opening [%]"], -60, 52), sw=2.2),
    line(VALVE_R, "#B02040", DOM_VALVE, xn, yaxis("right", VALVE_LABELS, "d", pad=12), sw=1.2),
    *ticks(xn, DOM_VALVE, VALVE_TICKS, H_C),
    notes(NOTES_RC, "black", DOM_VALVE, xn, align="center"),
], H_C)

pd_R = panel([
    line(PHASE_R, DKGREEN, DOM_PHASE, xd_R,
         yaxis("right", PHASE_LABELS, ".2f", ["e) Beam phase", "drift [ns]"], 79, 106, pad=12)),
    line(INTENSITY_R, PINK, DOM_INT, xd_R,
         yaxis("left", INT_LABELS, "d", ["d) Beam intensity", "variation [%]"], -60, 103)),
    *ticks(xd_R, DOM_INT, INT_TICKS, H_D),
    notes(NOTES_RD_INT, PINK, DOM_INT, xd_R),
    notes(NOTES_RD_PHASE, DKGREEN, DOM_INT, xd_R),
    box(BOX_R, DOM_INT, xd_R),
    notes(BOX_TEXT_R, "black", DOM_INT, xd_R, align="right", size=15.5, font=TTL_FONT),
    notes(BOX_BOLD_R, "black", DOM_INT, xd_R, align="left", size=15.5, font=TTL_FONT, weight="bold"),
], H_D)

chart = alt.concat(
    pa_L, pa_R, pc_L, pc_R, pd_L, pd_R,
    columns=2, spacing={"row": 0, "column": 224}, bounds="flush",
).resolve_scale(x="independent", y="independent").properties(
    padding={"left": 5, "top": 3, "right": 0, "bottom": 0}
).configure_view(
    stroke=FRAME, strokeWidth=1.3
).configure_axis(
    labelFont="DejaVu Sans", labelFontSize=16, labelColor="#1a1a1a",
    titleFont=TTL_FONT, titleFontSize=15, titleFontWeight="bold", titleColor="black"
)

chart.save("out.html", embed_options={"renderer": "svg", "actions": False})
